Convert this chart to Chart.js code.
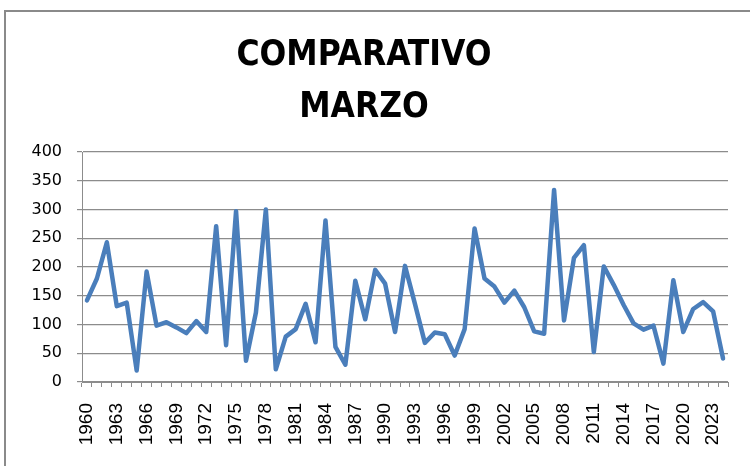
<!DOCTYPE html>
<html>
<head>
<meta charset="utf-8">
<title>Comparativo Marzo</title>
<script src="https://cdn.jsdelivr.net/npm/chart.js@4/dist/chart.umd.min.js"></script>
<style>
  body { margin: 0; background: #fff; overflow: hidden; }
  #wrap { position: relative; width: 750px; height: 466px; }
  #marco { position: absolute; left: 4px; top: 10px; width: 800px; height: 500px;
           border: 2px solid #8a8a8a; pointer-events: none; }
  canvas { position: absolute; left: 0; top: 0; }
</style>
</head>
<body>
<div id="wrap">
  <canvas id="marzoChart" width="750" height="466"></canvas>
  <div id="marco"></div>
</div>
<script>
// Años (categorías)
const anios = [
  '1960','1961','1962','1963','1964','1965','1966','1967','1968','1969',
  '1970','1971','1972','1973','1974','1975','1976','1977','1978','1979',
  '1980','1981','1982','1983','1984','1985','1986','1987','1988','1989',
  '1990','1991','1992','1993','1994','1995','1996','1997','1998','1999',
  '2000','2001','2002','2003','2004','2005','2006','2007','2008','2009',
  '2010','2011','2012','2013','2014','2015','2016','2017','2018','2019',
  '2020','2021','2022','2023','2024'
];

// Valores de marzo
const valoresMarzo = [
  142, 180, 243, 132, 138, 20, 192, 98, 104, 95,
  85, 106, 87, 271, 64, 297, 37, 121, 300, 22,
  79, 92, 136, 69, 281, 61, 30, 176, 109, 195,
  171, 87, 202, 136, 68, 86, 83, 46, 92, 267,
  180, 166, 138, 159, 130, 88, 84, 334, 107, 216,
  238, 52, 201, 169, 134, 102, 91, 98, 32, 177,
  87, 127, 139, 123, 41
];

// Eje Y
const ejeYMin = 0;
const ejeYMax = 400;
const ejeYPaso = 50;

const tituloLineas = ['COMPARATIVO', 'MARZO'];

const gris = '#8c8c8c';

const ctx = document.getElementById('marzoChart').getContext('2d');
const marzoChart = new Chart(ctx, {
    type: 'line',
    data: {
        labels: anios,
        datasets: [{
            label: 'Marzo',
            data: valoresMarzo,
            borderColor: '#4a7ebb',
            borderWidth: 4.5,
            borderJoinStyle: 'round',
            borderCapStyle: 'round',
            pointRadius: 0,
            tension: 0,
            fill: false
        }]
    },
    options: {
        responsive: false,
        animation: false,
        layout: {
            padding: { left: 0, right: 22, top: 0, bottom: 0 }
        },
        plugins: {
            legend: { display: false },
            tooltip: { enabled: false },
            title: {
                display: true,
                text: tituloLineas,
                color: '#000',
                font: {
                    family: "'Liberation Sans Narrow', 'DejaVu Sans Condensed', sans-serif",
                    size: 35,
                    weight: 'bold',
                    lineHeight: 1.486
                },
                padding: { top: 30, bottom: 18 }
            }
        },
        scales: {
            x: {
                offset: true,
                grid: {
                    display: true,
                    offset: true,
                    drawOnChartArea: false,
                    drawTicks: true,
                    tickLength: 5,
                    color: gris
                },
                border: { display: true, color: gris, width: 1 },
                ticks: {
                    autoSkip: false,
                    minRotation: 90,
                    maxRotation: 90,
                    padding: 16,
                    color: '#000',
                    font: { family: "'Liberation Sans', Arial, sans-serif", size: 19 },
                    callback: function (valor, indice) {
                        return indice % 3 === 0 ? anios[indice] : '';
                    }
                },
                afterFit: function (escala) {
                    // alto fijo del eje y sin relleno lateral extra
                    escala.height = 84;
                    escala.paddingLeft = 0;
                    escala.paddingRight = 0;
                }
            },
            y: {
                min: ejeYMin,
                max: ejeYMax,
                grid: {
                    color: gris,
                    lineWidth: 1.2,
                    tickLength: 5
                },
                border: { display: true, color: gris, width: 1 },
                ticks: {
                    stepSize: ejeYPaso,
                    padding: 15,
                    color: '#000',
                    font: { family: "'DejaVu Sans', sans-serif", size: 16 }
                },
                afterFit: function (escala) {
                    escala.width = 82;
                }
            }
        }
    }
});
</script>
</body>
</html>
